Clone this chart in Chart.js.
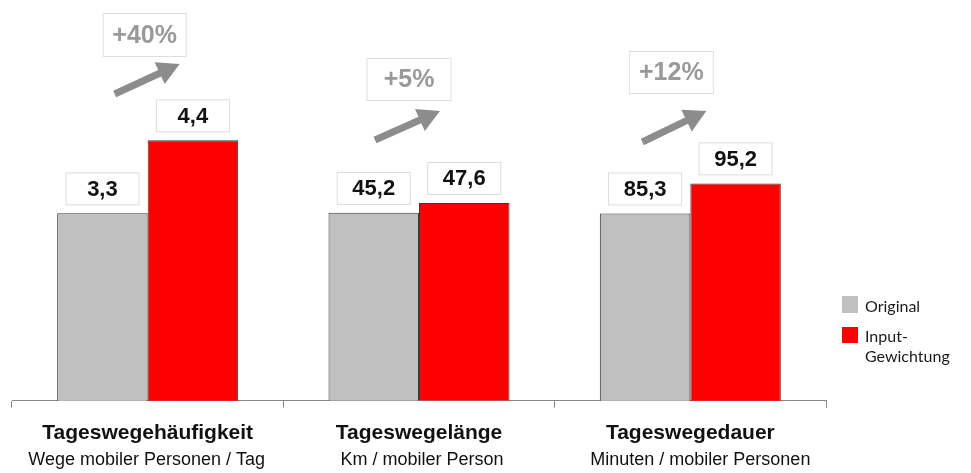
<!DOCTYPE html>
<html>
<head>
<meta charset="utf-8">
<script src="https://cdn.jsdelivr.net/npm/chart.js@4.4.1/dist/chart.umd.min.js"></script>
<style>
  html, body { margin: 0; padding: 0; background: #ffffff; }
  #wrap { width: 971px; height: 473px; position: relative; }
</style>
</head>
<body>
<div id="wrap"><canvas id="c" width="971" height="473"></canvas></div>
<script>
// ---- data ----
const categories = ['Tageswegehäufigkeit', 'Tageswegelänge', 'Tageswegedauer'];
const subtitles = ['Wege mobiler Personen / Tag', 'Km / mobiler Person', 'Minuten / mobiler Personen'];
const seriesNames = ['Original', 'Input-Gewichtung'];
const originalValues = [3.3, 45.2, 85.3];
const inputValues = [4.4, 47.6, 95.2];
const changeLabels = ['+40%', '+5%', '+12%'];

// ---- styles ----
const GRAY = '#c0c0c0';
const RED = '#ff0000';
const BORDER = '#3a3a3a';

const datasets = [];
categories.forEach((cat, i) => {
  datasets.push({
    label: seriesNames[0],
    data: categories.map((_, j) => j === i ? originalValues[i] : null),
    yAxisID: 'y' + i,
    backgroundColor: GRAY,
    borderColor: BORDER,
    borderWidth: 1
  });
  datasets.push({
    label: seriesNames[1],
    data: categories.map((_, j) => j === i ? inputValues[i] : null),
    yAxisID: 'y' + i,
    backgroundColor: RED,
    borderColor: BORDER,
    borderWidth: 1
  });
});

function fmt(v) { return v.toFixed(1).replace('.', ','); }

const valueLabelPlugin = {
  id: 'valueLabels',
  afterDatasetsDraw(chart) {
    const ctx = chart.ctx;
    ctx.save();
    chart.data.datasets.forEach((ds, di) => {
      const meta = chart.getDatasetMeta(di);
      meta.data.forEach((bar, idx) => {
        const v = ds.data[idx];
        if (v === null || v === undefined) return;
        const w = 74, h = 33;
        const x = bar.x - w / 2;
        const y = bar.y - 8 - h;
        ctx.fillStyle = '#ffffff';
        ctx.fillRect(x, y, w, h);
        ctx.strokeStyle = '#dcdcdc';
        ctx.lineWidth = 1;
        ctx.strokeRect(x + 0.5, y + 0.5, w - 1, h - 1);
        ctx.fillStyle = '#111111';
        ctx.font = 'bold 22px "Liberation Sans", Arial, sans-serif';
        ctx.textAlign = 'center';
        ctx.textBaseline = 'middle';
        ctx.fillText(fmt(v), bar.x, y + h / 2 + 1);
      });
    });
    ctx.restore();
  }
};

function drawArrow(ctx, x1, y1, x2, y2, shaftW, headL, headW, color) {
  const ang = Math.atan2(y2 - y1, x2 - x1);
  const len = Math.hypot(x2 - x1, y2 - y1);
  ctx.save();
  ctx.translate(x1, y1);
  ctx.rotate(ang);
  ctx.fillStyle = color;
  ctx.beginPath();
  ctx.moveTo(0, -shaftW / 2);
  ctx.lineTo(len - headL, -shaftW / 2);
  ctx.lineTo(len - headL, -headW / 2);
  ctx.lineTo(len, 0);
  ctx.lineTo(len - headL, headW / 2);
  ctx.lineTo(len - headL, shaftW / 2);
  ctx.lineTo(0, shaftW / 2);
  ctx.closePath();
  ctx.fill();
  ctx.restore();
}

const changePlugin = {
  id: 'changeNotes',
  afterDatasetsDraw(chart, args, opts) {
    const ctx = chart.ctx;
    const xs = chart.scales.x;
    ctx.save();
    opts.items.forEach((it, i) => {
      const cx = xs.getPixelForValue(i);
      drawArrow(ctx, cx + it.tail[0], it.tail[1], cx + it.tip[0], it.tip[1], 7, 22, 24, '#8c8c8c');
      const bx = cx + it.box[0] - it.box[2] / 2;
      const by = it.box[1];
      ctx.fillStyle = '#ffffff';
      ctx.fillRect(bx, by, it.box[2], it.box[3]);
      ctx.strokeStyle = '#dedede';
      ctx.lineWidth = 1;
      ctx.strokeRect(bx + 0.5, by + 0.5, it.box[2] - 1, it.box[3] - 1);
      ctx.fillStyle = '#999999';
      ctx.font = 'bold 25px "Liberation Sans", Arial, sans-serif';
      ctx.textAlign = 'center';
      ctx.textBaseline = 'middle';
      ctx.fillText(changeLabels[i], cx + it.box[0], by + it.box[3] / 2 + 1);
    });
    ctx.restore();
  }
};

// second line of category labels (regular weight), placed under the axis tick labels
const subtitlePlugin = {
  id: 'subtitles',
  afterDraw(chart, args, opts) {
    const ctx = chart.ctx;
    const xs = chart.scales.x;
    ctx.save();
    ctx.font = '18px "Liberation Sans", Arial, sans-serif';
    ctx.fillStyle = '#111111';
    ctx.textAlign = 'center';
    ctx.textBaseline = 'middle';
    subtitles.forEach((s, i) => {
      ctx.fillText(s, xs.getPixelForValue(i) + opts.dx[i], xs.top + opts.offsetY);
    });
    ctx.restore();
  }
};

const legendPlugin = {
  id: 'sideLegend',
  afterDraw(chart, args, opts) {
    const ctx = chart.ctx;
    const x0 = chart.chartArea.right + opts.offsetX;
    ctx.save();
    ctx.font = '16px Lato, "Open Sans", sans-serif';
    ctx.textAlign = 'left';
    ctx.textBaseline = 'middle';
    ctx.fillStyle = GRAY;
    ctx.fillRect(x0, opts.top, 16, 17);
    ctx.fillStyle = '#1a1a1a';
    ctx.fillText(seriesNames[0], x0 + 23, opts.top + 11);
    const y2 = opts.top + 31;
    ctx.fillStyle = RED;
    ctx.fillRect(x0, y2, 16, 16);
    ctx.fillStyle = '#1a1a1a';
    const parts = seriesNames[1].split('-');
    ctx.fillText(parts[0] + '-', x0 + 23, y2 + 10);
    ctx.fillText(parts[1], x0 + 23, y2 + 30);
    ctx.restore();
  }
};

new Chart(document.getElementById('c'), {
  type: 'bar',
  data: { labels: categories, datasets: datasets },
  options: {
    responsive: false,
    animation: false,
    devicePixelRatio: 1,
    skipNull: true,
    categoryPercentage: 0.667,
    barPercentage: 1.0,
    layout: { padding: { left: 12, right: 145, top: 0, bottom: 14 } },
    plugins: {
      legend: { display: false },
      tooltip: { enabled: false },
      changeNotes: {
        items: [
          { box: [-3, 13, 84, 44], tail: [-33, 94], tip: [32, 64] },
          { box: [-10, 58, 85, 43], tail: [-44, 140], tip: [21, 111] },
          { box: [-19, 51, 85, 43], tail: [-48, 142], tip: [16, 111] }
        ]
      },
      subtitles: { offsetY: 59, dx: [-1, 3, 10] },
      sideLegend: { offsetX: 16, top: 296 }
    },
    scales: {
      x: {
        type: 'category',
        position: 'bottom',
        offset: true,
        grid: { display: true, offset: true, drawOnChartArea: false, drawTicks: true, tickLength: 7, color: '#888888' },
        border: { display: true, color: '#888888', width: 1 },
        ticks: {
          color: '#111111',
          font: { family: '"Liberation Sans", Arial, sans-serif', size: 21, weight: 'bold', lineHeight: 1.2 },
          padding: 13, maxRotation: 0, autoSkip: false
        }
      },
      y0: { display: false, min: 0.48, max: 6.51 },
      y1: { display: false, min: 0, max: 96.4 },
      y2: { display: false, min: 23.6, max: 155.6 }
    }
  },
  plugins: [valueLabelPlugin, changePlugin, subtitlePlugin, legendPlugin]
});
</script>
</body>
</html>
